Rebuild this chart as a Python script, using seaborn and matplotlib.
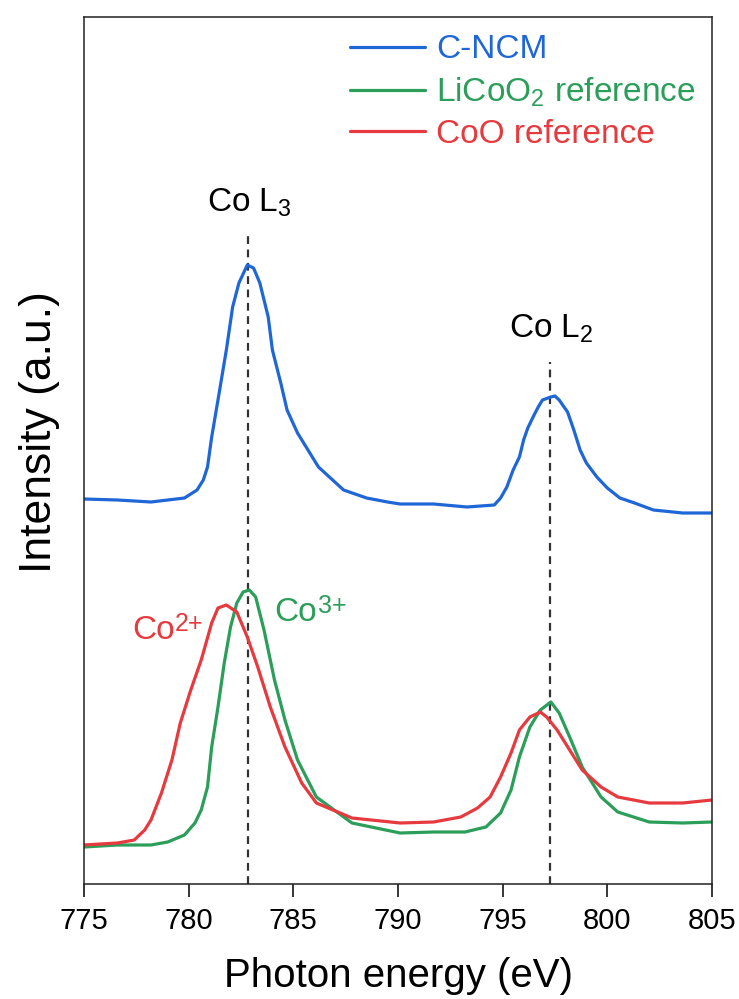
import numpy as np
import pandas as pd
import matplotlib
matplotlib.use("Agg")
import matplotlib.pyplot as plt
import seaborn as sns

# ---- data ----
energy_ncm = [775.0, 776.6, 778.2, 779.8, 780.4, 780.7, 780.9, 781.1, 781.4, 781.8,
              782.1, 782.4, 782.8, 783.1, 783.4, 783.8, 784.0, 784.4, 784.7, 785.2,
              786.2, 787.4, 788.5, 789.5, 790.1, 791.7, 793.3, 794.6, 794.9, 795.2,
              795.5, 795.8, 796.0, 796.2, 796.5, 796.7, 796.9, 797.3, 797.5, 797.7,
              798.1, 798.4, 798.7, 799.0, 799.5, 800.0, 800.6, 801.3, 802.2, 803.6,
              805.0]
intensity_ncm = [3.85, 3.84, 3.82, 3.86, 3.94, 4.04, 4.17, 4.47, 4.84, 5.34,
                 5.77, 6.01, 6.19, 6.16, 6.01, 5.67, 5.34, 5.01, 4.74, 4.51,
                 4.17, 3.94, 3.86, 3.82, 3.80, 3.80, 3.77, 3.79, 3.86, 3.97,
                 4.14, 4.27, 4.44, 4.56, 4.69, 4.77, 4.84, 4.87, 4.88, 4.84,
                 4.72, 4.54, 4.34, 4.21, 4.07, 3.96, 3.86, 3.81, 3.74, 3.71,
                 3.71]

energy_licoo2 = [775.0, 776.6, 778.2, 779.0, 779.8, 780.3, 780.6, 780.9, 781.1, 781.4,
                 781.7, 782.0, 782.3, 782.6, 782.9, 783.2, 783.6, 784.1, 784.6, 785.2,
                 786.1, 787.8, 790.1, 791.7, 793.2, 794.2, 794.9, 795.4, 795.8, 796.3,
                 796.8, 797.3, 797.7, 798.2, 798.8, 799.7, 800.5, 802.0, 803.6, 805.0]
intensity_licoo2 = [0.37, 0.39, 0.39, 0.42, 0.49, 0.61, 0.74, 0.97, 1.37, 1.77,
                    2.21, 2.57, 2.81, 2.92, 2.94, 2.87, 2.54, 2.04, 1.64, 1.24,
                    0.87, 0.61, 0.51, 0.52, 0.52, 0.57, 0.71, 0.94, 1.27, 1.57,
                    1.74, 1.82, 1.71, 1.47, 1.17, 0.87, 0.72, 0.62, 0.61, 0.62]

energy_coo = [775.0, 776.6, 777.4, 777.9, 778.2, 778.7, 779.2, 779.6, 780.1, 780.6,
              781.1, 781.4, 781.8, 782.3, 782.8, 783.3, 783.9, 784.6, 785.4, 786.1,
              787.8, 790.1, 791.7, 793.0, 793.8, 794.4, 794.9, 795.4, 795.8, 796.3,
              796.8, 797.1, 797.6, 798.2, 798.8, 799.7, 800.5, 802.0, 803.6, 805.0]
intensity_coo = [0.39, 0.41, 0.44, 0.54, 0.64, 0.91, 1.24, 1.61, 1.94, 2.24,
                 2.61, 2.76, 2.79, 2.72, 2.47, 2.17, 1.77, 1.37, 1.01, 0.81,
                 0.66, 0.61, 0.62, 0.67, 0.76, 0.87, 1.07, 1.31, 1.54, 1.67,
                 1.72, 1.67, 1.54, 1.34, 1.14, 0.97, 0.87, 0.81, 0.81, 0.84]

series_labels = ["C-NCM", "LiCoO$_2$ reference", "CoO reference"]
series_colors = ["#1f66d6", "#2b9e5a", "#e63a3f"]

edge_positions = [782.85, 797.27]
edge_line_tops = [6.51, 5.22]
edge_labels = ["Co L$_3$", "Co L$_2$"]

tick_values = [775, 780, 785, 790, 795, 800, 805]

# ---- style ----
sns.set_theme(style="ticks")
plt.rcParams["font.family"] = ["Liberation Sans", "DejaVu Sans"]
plt.rcParams["mathtext.fontset"] = "custom"
plt.rcParams["mathtext.rm"] = "Liberation Sans"
plt.rcParams["mathtext.it"] = "Liberation Sans:italic"
plt.rcParams["mathtext.bf"] = "Liberation Sans:bold"
plt.rcParams["mathtext.default"] = "regular"

fig = plt.figure(figsize=(7.39, 9.99), dpi=100)
ax = fig.add_axes([84 / 739, 1 - 884 / 999, 628 / 739, 867 / 999])

frames = [
    pd.DataFrame({"energy": energy_ncm, "intensity": intensity_ncm, "series": series_labels[0]}),
    pd.DataFrame({"energy": energy_licoo2, "intensity": intensity_licoo2, "series": series_labels[1]}),
    pd.DataFrame({"energy": energy_coo, "intensity": intensity_coo, "series": series_labels[2]}),
]
df = pd.concat(frames, ignore_index=True)

sns.lineplot(data=df, x="energy", y="intensity", hue="series",
             hue_order=series_labels, palette=series_colors,
             linewidth=2.3, sort=False, estimator=None, ax=ax)

# dashed edge markers
for xpos, top in zip(edge_positions, edge_line_tops):
    ax.plot([xpos, xpos], [0, top], color="#333333", linewidth=1.6,
            linestyle=(0, (3.5, 2.5)), zorder=1)

ax.text(782.88, 6.72, edge_labels[0], ha="center", va="baseline", fontsize=24, color="black")
ax.text(797.31, 5.46, edge_labels[1], ha="center", va="baseline", fontsize=24, color="black")

# oxidation-state labels with superscripts
t2 = ax.text(777.3, 2.45, "Co", ha="left", va="baseline", fontsize=24, color=series_colors[2])
ax.annotate("2+", xy=(1, 1), xycoords=t2, xytext=(0.3, 2), textcoords="offset points",
            ha="left", va="top", fontsize=18, color=series_colors[2])
t3 = ax.text(784.1, 2.63, "Co", ha="left", va="baseline", fontsize=24, color=series_colors[1])
ax.annotate("3+", xy=(1, 1), xycoords=t3, xytext=(0.3, 2), textcoords="offset points",
            ha="left", va="top", fontsize=18, color=series_colors[1])

ax.set_xlim(775, 805)
ax.set_ylim(0, 8.67)
ax.set_xticks(tick_values)
ax.set_xticklabels([str(t) for t in tick_values])
ax.set_yticks([])
ax.tick_params(axis="x", direction="out", length=9, width=1.1, pad=7.5,
               labelsize=21, colors="black")
for sp in ax.spines.values():
    sp.set_visible(True)
    sp.set_linewidth(1.1)
    sp.set_color("#222222")

ax.set_xlabel("Photon energy (eV)", fontsize=29, labelpad=16, color="black")
ax.set_ylabel("Intensity (a.u.)", fontsize=32, color="black")
ax.yaxis.set_label_coords(-0.038, 0.521)

leg = ax.legend(loc="upper left", bbox_to_anchor=(0.4236, 0.980), frameon=False,
                fontsize=24, handlelength=2.25, handletextpad=0.33,
                labelspacing=0.3, borderpad=0, borderaxespad=0,
                labelcolor="linecolor")
for line in leg.get_lines():
    line.set_linewidth(2.3)

fig.savefig("out.png", dpi=100)
